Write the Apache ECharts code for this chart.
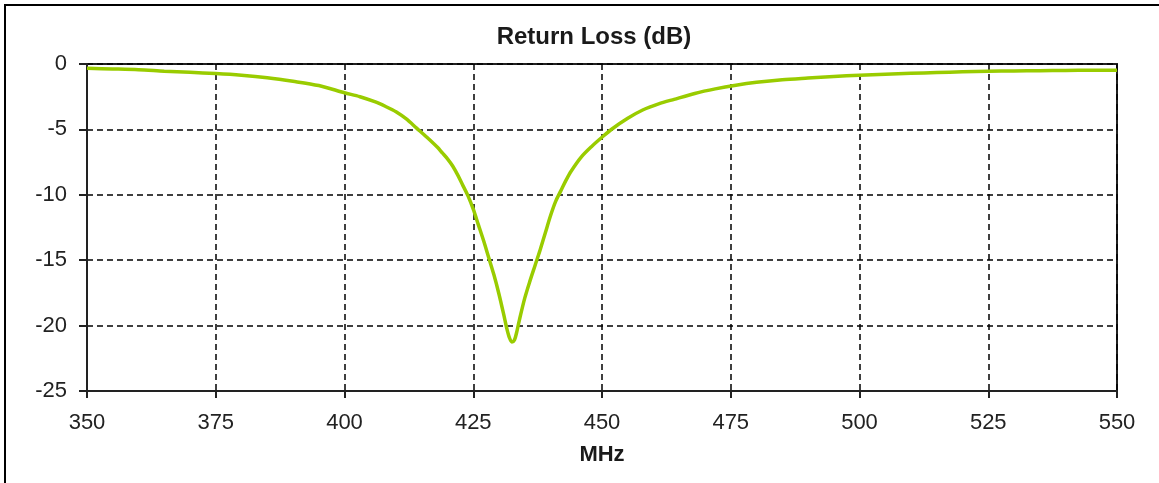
<!DOCTYPE html>
<html>
<head>
<meta charset="utf-8">
<title>Return Loss (dB)</title>
<script src="https://cdn.jsdelivr.net/npm/echarts@6/dist/echarts.min.js"></script>
<style>
    html, body { margin: 0; padding: 0; background: #fff; }
    #chart { width: 1159px; height: 483px; }
</style>
</head>
<body>
<div id="chart"></div>
<script>
// frequency (MHz) and return loss (dB)
const freqs = [
    350, 355, 360, 365, 370, 375, 380, 385, 390, 395,
    400, 403, 406, 408, 410, 412, 414, 416, 418, 419,
    420, 421, 422, 423, 424, 425, 426, 427, 428, 429,
    430, 431, 431.5, 432, 432.5, 433, 433.5, 434, 435, 436,
    437, 438, 439, 440, 441, 442, 443, 444, 446, 448,
    450, 452, 455, 458, 461, 464, 468, 472, 476, 480,
    485, 490, 495, 500, 505, 510, 515, 520, 525, 530,
    535, 540, 545, 550
];
const returnLoss = [
    -0.33, -0.38, -0.44, -0.55, -0.64, -0.73, -0.86, -1.05, -1.32, -1.65,
    -2.2, -2.5, -2.9, -3.25, -3.65, -4.2, -4.9, -5.6, -6.35, -6.8,
    -7.25, -7.8, -8.5, -9.3, -10.1, -11.1, -12.3, -13.5, -14.8, -16.1,
    -17.6, -19.3, -20.2, -20.9, -21.25, -21.1, -20.4, -19.5, -17.9, -16.6,
    -15.4, -14.2, -12.9, -11.6, -10.5, -9.7, -8.9, -8.2, -7.1, -6.3,
    -5.6, -4.95, -4.15, -3.5, -3.05, -2.7, -2.25, -1.9, -1.62, -1.4,
    -1.2, -1.07, -0.95, -0.86, -0.78, -0.71, -0.65, -0.6, -0.56, -0.53,
    -0.51, -0.49, -0.48, -0.48
];

const xTicks = [350, 375, 400, 425, 450, 475, 500, 525, 550];
const yTicks = [0, -5, -10, -15, -20, -25];

const AXIS_COLOR = '#222';
const LINE_COLOR = '#99cc00';
const FONT = 'Liberation Sans, Arial, sans-serif';

document.addEventListener('DOMContentLoaded', () => {
    const chart = echarts.init(document.getElementById('chart'));
    chart.setOption(buildOption());
});

function buildOption() {
    const points = freqs.map((f, i) => [f, returnLoss[i]]);

    const splitStyle = {
        show: true,
        lineStyle: { color: '#000', width: 1.5, type: [6, 4] }
    };

    return {
        animation: false,
        backgroundColor: '#fff',
        textStyle: { fontFamily: FONT },
        title: {
            text: 'Return Loss (dB)',
            left: 589,
            top: 20,
            textAlign: 'center',
            textStyle: { fontSize: 24, fontWeight: 'bold', color: '#1a1a1a', fontFamily: FONT }
        },
        graphic: [
            {
                type: 'rect',
                shape: { x: 5, y: 5, width: 1400, height: 800 },
                style: { fill: 'none', stroke: '#000', lineWidth: 2 },
                silent: true
            }
        ],
        grid: {
            left: 87, top: 64, right: 42, bottom: 92,
            show: true,
            borderColor: AXIS_COLOR,
            borderWidth: 2,
            backgroundColor: 'transparent'
        },
        xAxis: {
            type: 'value',
            min: xTicks[0],
            max: xTicks[xTicks.length - 1],
            interval: 25,
            name: 'MHz',
            nameLocation: 'middle',
            nameGap: 53,
            nameTextStyle: { fontSize: 22, fontWeight: 'bold', color: '#1a1a1a', fontFamily: FONT },
            axisLine: { show: true, onZero: false, lineStyle: { color: AXIS_COLOR, width: 2 } },
            axisTick: { show: true, inside: false, length: 7, lineStyle: { color: AXIS_COLOR, width: 2 } },
            axisLabel: {
                fontSize: 22, color: '#222', margin: 21,
                formatter: (v) => (xTicks.includes(v) ? String(v) : '')
            },
            splitLine: splitStyle
        },
        yAxis: {
            type: 'value',
            min: yTicks[yTicks.length - 1],
            max: yTicks[0],
            interval: 5,
            axisLine: { show: true, onZero: false, lineStyle: { color: AXIS_COLOR, width: 2 } },
            axisTick: { show: true, inside: false, length: 8, lineStyle: { color: AXIS_COLOR, width: 2 } },
            axisLabel: {
                fontSize: 22, color: '#222', margin: 20,
                formatter: (v) => (yTicks.includes(v) ? String(v) : '')
            },
            splitLine: splitStyle
        },
        series: [
            {
                type: 'line',
                data: points,
                showSymbol: false,
                smooth: 0.3,
                lineStyle: { color: LINE_COLOR, width: 3.5 },
                itemStyle: { color: LINE_COLOR },
                z: 5
            }
        ]
    };
}
</script>
</body>
</html>
